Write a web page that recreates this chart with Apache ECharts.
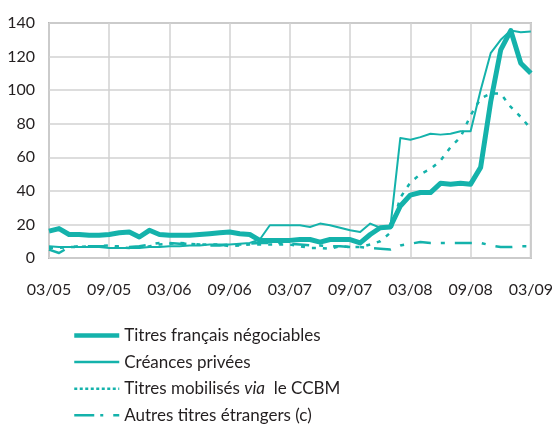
<!DOCTYPE html>
<html>
<head>
<meta charset="utf-8">
<script src="https://cdn.jsdelivr.net/npm/echarts@6/dist/echarts.min.js"></script>
<style>
  html, body { margin: 0; padding: 0; background: #fff; }
  #chart { width: 556px; height: 428px; }
</style>
</head>
<body>
<div id="chart"></div>
<script>
// Monthly categories, March 2005 to March 2009 (mm/yy)
const months = [];
for (let y = 5, m = 3; y < 9 || (y === 9 && m <= 3); ) {
  months.push(String(m).padStart(2, '0') + '/' + String(y).padStart(2, '0'));
  m++; if (m > 12) { m = 1; y++; }
}

const yTicks = [0, 20, 40, 60, 80, 100, 120, 140];

// Titres français négociables (milliards d'euros)
const titresFrancais = [16, 17.5, 14, 14, 13.5, 13.5, 14, 15, 15.5, 12.5, 16.5, 14, 13.5, 13.5, 13.5, 14, 14.5,
  15, 15.5, 14.5, 14, 10.5, 10.5, 10.5, 10.5, 11, 11, 9.5, 11, 11, 11, 9, 14, 18, 18.5, 31, 37.5, 39, 39,
  44.5, 44, 44.5, 44, 54, 93, 124, 135.5, 116, 110];

// Créances privées
const creancesPrivees = [7, 6.5, 6.5, 6.5, 6.5, 6.5, 6, 6, 6, 6, 6.5, 6.5, 7, 7, 7.5, 7.5, 8, 8, 8, 8.5, 9,
  11, 19.5, 19.5, 19.5, 19.5, 18.5, 20.5, 19.5, 18, 16.5, 15.5, 20.5, 18, 18, 71.5, 70.5, 72, 74, 73.5, 74,
  75.5, 75.5, 100, 122, 130, 135.5, 134.5, 135];

// Titres mobilisés via le CCBM
const titresCCBM = [6, 6, 6.5, 6.5, 7, 7, 7.5, 6.5, 6, 6.5, 7, 8, 8.5, 9, 8.5, 8, 8, 8, 7, 7.5, 8, 8, 8, 8,
  8, 7, 6, 6, 5.5, 7, 6.5, 6.5, 8, 10, 15, 36, 45, 50, 53, 58, 66, 72, 85, 95, 98, 98, 90, 84, 77];

// Autres titres étrangers (c)
const autresEtrangers = [5, 3, 6.5, 7, 7, 7, 7, 7, 6.5, 7, 8, 9, 9, 8.5, 8.5, 8, 7.5, 7.5, 8, 8, 8.5, 9, 9,
  9, 8.5, 8, 7.5, 7.5, 7, 7, 6.5, 6.5, 6, 5.5, 5, 7.5, 8.5, 9.5, 9, 9, 9, 9, 9, 9, 7.5, 6.5, 6.5, 7, 7];

const seriesNames = [
  'Titres français négociables',
  'Créances privées',
  'Titres mobilisés via le CCBM',
  'Autres titres étrangers (c)'
];

const teal = '#14b2ab';
const font = 'Lato, "Open Sans", sans-serif';
const textColor = '#231f20';

const chart = echarts.init(document.getElementById('chart'), null, { renderer: 'canvas' });

function lineSeries(name, data, width, type) {
  return {
    name: name,
    type: 'line',
    data: data,
    showSymbol: false,
    symbol: 'none',
    smooth: false,
    animation: false,
    lineStyle: { color: teal, width: width, type: type, cap: 'butt', join: 'round' },
    itemStyle: { color: teal }
  };
}

// Legend keys: line only, no marker in the middle
function legendItem(name, width, type) {
  return {
    name: name,
    lineStyle: { width: width, color: teal, type: type },
    itemStyle: { opacity: 0, color: 'transparent', borderWidth: 0 }
  };
}

chart.setOption({
  animation: false,
  grid: { left: 49, right: 22, top: 23, bottom: 170, show: true, borderColor: '#b8b8b8', borderWidth: 2 },
  xAxis: {
    type: 'category',
    data: months,
    boundaryGap: false,
    axisLine: { show: false },
    axisTick: { show: false },
    axisLabel: {
      interval: 5, margin: 24, fontFamily: font, fontSize: 16, color: textColor
    },
    splitLine: { show: true, interval: 5, lineStyle: { color: '#d2d2d2', width: 1.5 } }
  },
  yAxis: {
    type: 'value',
    min: yTicks[0],
    max: yTicks[yTicks.length - 1],
    interval: 20,
    axisLine: { show: false },
    axisTick: { show: false },
    axisLabel: { margin: 14, fontFamily: font, fontSize: 16, color: textColor },
    splitLine: { show: true, lineStyle: { color: '#d2d2d2', width: 1.5 } }
  },
  legend: {
    orient: 'vertical',
    left: 67,
    top: 322,
    height: 200,
    itemWidth: 45,
    itemHeight: 14,
    itemGap: 9.6,
    selectedMode: false,
    textStyle: {
      fontFamily: font, fontSize: 17, color: textColor, lineHeight: 14, padding: [0, 0, 0, 0],
      rich: {
        n: { fontFamily: font, fontSize: 17, color: textColor, lineHeight: 14 },
        i: { fontFamily: font, fontSize: 17, color: textColor, lineHeight: 14, fontStyle: 'italic' }
      }
    },
    formatter: function (name) {
      if (name === seriesNames[2]) {
        return '{n|Titres mobilisés }{i|via}{n|  le CCBM}';
      }
      return '{n|' + name + '}';
    },
    data: [
      legendItem(seriesNames[0], 4.5, 'solid'),
      legendItem(seriesNames[1], 2.5, 'solid'),
      legendItem(seriesNames[2], 2.5, [3, 2.5]),
      legendItem(seriesNames[3], 2.5, [20, 6, 3, 10, 6, 100])
    ]
  },
  series: [
    lineSeries(seriesNames[0], titresFrancais, 5, 'solid'),
    lineSeries(seriesNames[1], creancesPrivees, 2, 'solid'),
    lineSeries(seriesNames[2], titresCCBM, 2.5, [4, 7]),
    lineSeries(seriesNames[3], autresEtrangers, 2.5, [17, 10, 4, 10])
  ]
});
</script>
</body>
</html>
